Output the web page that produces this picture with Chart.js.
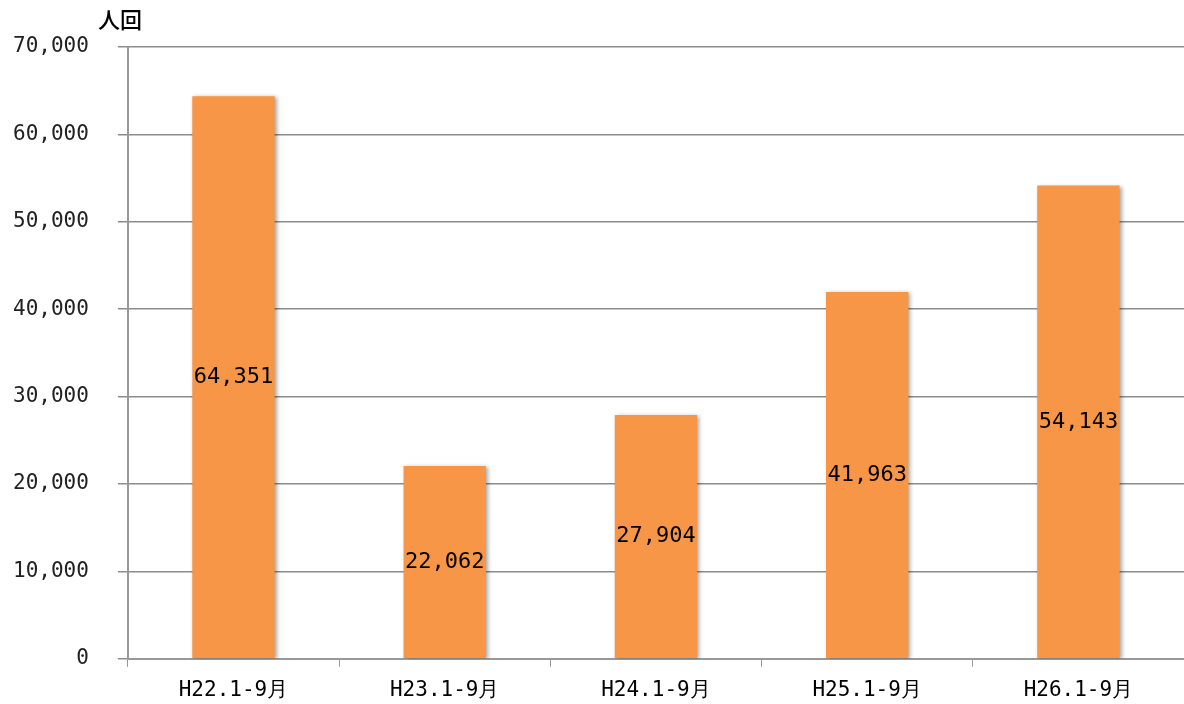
<!DOCTYPE html>
<html>
<head>
<meta charset="utf-8">
<script src="https://cdn.jsdelivr.net/npm/chart.js@4/dist/chart.umd.min.js"></script>
<style>
  body { margin: 0; background: #fff; }
  #wrap { width: 1184px; height: 704px; position: relative; }
</style>
</head>
<body>
<div id="wrap"><canvas id="myChart"></canvas></div>
<script>
// data
const categories = ['H22.1-9月', 'H23.1-9月', 'H24.1-9月', 'H25.1-9月', 'H26.1-9月'];
const visitors = [64351, 22062, 27904, 41963, 54143];
const yMax = 70000;
const yStep = 10000;
const unitLabel = '人回';

const monoFont = '"DejaVu Sans Mono", "Liberation Mono", monospace';

// soft grey shadow to the right of bars, like the original
const barShadow = {
  id: 'barShadow',
  beforeDatasetsDraw(chart) {
    const ctx = chart.ctx;
    ctx.save();
    ctx.shadowColor = 'rgba(0,0,0,0.35)';
    ctx.shadowBlur = 4;
    ctx.shadowOffsetX = 2;
    ctx.shadowOffsetY = 1;
  },
  afterDatasetsDraw(chart) {
    chart.ctx.restore();
  }
};

// value labels in the middle of each bar + unit label above the y axis
const barLabels = {
  id: 'barLabels',
  afterDraw(chart) {
    const ctx = chart.ctx;
    ctx.save();
    ctx.font = '22px ' + monoFont;
    ctx.fillStyle = '#000';
    ctx.textAlign = 'center';
    ctx.textBaseline = 'middle';
    chart.getDatasetMeta(0).data.forEach((bar, i) => {
      const txt = visitors[i].toLocaleString('en-US');
      ctx.fillText(txt, bar.x, (bar.y + bar.base) / 2);
    });
    ctx.font = '500 22px "Noto Sans CJK JP"';
    ctx.textAlign = 'left';
    ctx.fillText(unitLabel, 98, 20);
    ctx.restore();
  }
};

new Chart(document.getElementById('myChart'), {
  type: 'bar',
  data: {
    labels: categories,
    datasets: [{
      data: visitors,
      backgroundColor: '#F79646',
      borderWidth: 0,
      barPercentage: 0.39,
      categoryPercentage: 1
    }]
  },
  options: {
    responsive: true,
    maintainAspectRatio: false,
    animation: false,
    layout: { padding: { top: 47, left: -16, right: 0, bottom: -10 } },
    plugins: {
      legend: { display: false },
      tooltip: { enabled: false }
    },
    scales: {
      x: {
        offset: true,
        grid: {
          offset: true,
          drawOnChartArea: false,
          drawTicks: true,
          tickLength: 8,
          color: '#999'
        },
        border: { color: '#999', width: 2 },
        ticks: {
          color: '#000',
          padding: 11,
          font: { family: monoFont, size: 21 }
        }
      },
      y: {
        min: 0,
        max: yMax,
        grid: {
          color: '#8c8c8c',
          lineWidth: 1.5,
          tickLength: 10
        },
        border: { color: '#999', width: 2 },
        ticks: {
          stepSize: yStep,
          color: '#222',
          padding: 29,
          font: { family: monoFont, size: 21 },
          callback: v => v.toLocaleString('en-US')
        }
      }
    }
  },
  plugins: [barShadow, barLabels]
});
</script>
</body>
</html>
